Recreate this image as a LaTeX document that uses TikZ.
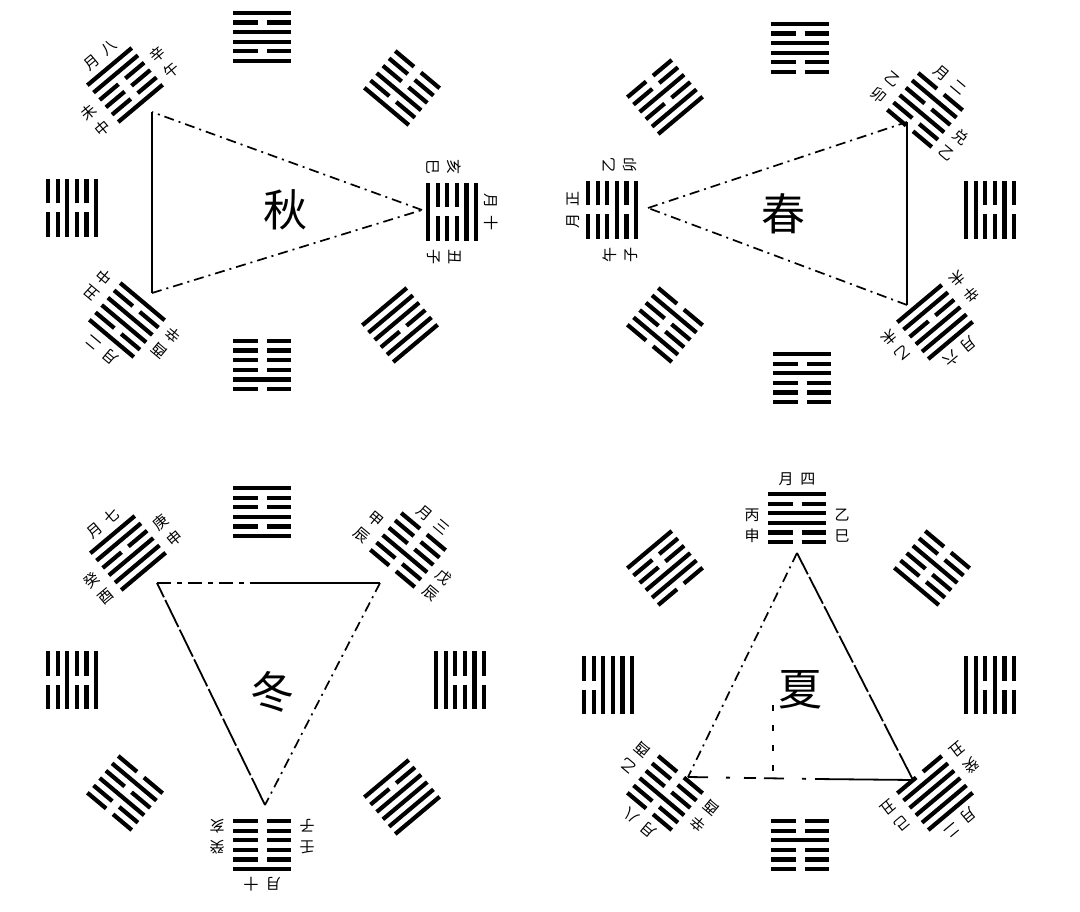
\documentclass[tikz,border=0pt]{standalone}
\usepackage{fontspec}
\newfontfamily\cjk{Noto Sans CJK SC}

% one hexagram: name, centre, angle, lines from outer to inner (1 solid, 0 broken)
\newcommand{\hexa}[4]{%
  \coordinate (#1) at (#2);
  \begin{scope}[shift={(#2)}, rotate=#3]
    \foreach \b [count=\i] in {#4} {
      \pgfmathsetmacro{\yy}{(\i-3.5)*9.6}
      \ifnum\b=1
        \draw[yao] (-29,\yy) -- (29,\yy);
      \else
        \draw[yao] (-29,\yy) -- (-4.5,\yy) (4.5,\yy) -- (29,\yy);
      \fi
    }
  \end{scope}}

% labels of a corner hexagram: name, centre, angle, outer, left pair, right pair
\newcommand{\yue}[6]{%
  \begin{scope}[shift={(#2)}, rotate=#3]
    \node[lab, rotate=#3] (#1o) at (0,-39) {#4};
    \node[lab, rotate=#3] (#1l) at (-45,8) {#5};
    \node[lab, rotate=#3] (#1r) at (45,8) {#6};
  \end{scope}}

\begin{document}
\begin{tikzpicture}[x=1pt,y=-1pt]
  \tikzset{
      yao/.style = {line width=4.2pt},
      tri/.style = {line width=1.7pt, dash pattern=on 10pt off 5pt on 2pt off 5pt},
      edgesolid/.style = {line width=1.8pt},
      lab/.style = {font=\cjk\fontsize{15}{21}\selectfont, inner sep=0pt, align=center},
      season/.style = {font=\cjk\fontsize{44}{44}\selectfont, inner sep=0pt}
  }
  \fill[white] (0,0) rectangle (1080,912);
  \useasboundingbox (0,0) rectangle (1080,912);

  % autumn
  \hexa{q1}{262,37}{0}{1,0,1,1,0,1}
  \hexa{q2}{402,88}{-40}{0,0,0,1,0,1}
  \hexa{q3}{452,212}{-90}{1,1,0,0,0,1}
  \hexa{q4}{400,325}{-140}{1,1,0,1,1,1}
  \hexa{q5}{262,365}{180}{0,1,0,0,0,0}
  \hexa{q6}{127,320}{140}{1,0,1,1,0,1}
  \hexa{q7}{72,208}{90}{0,0,1,0,0,1}
  \hexa{q8}{125,85}{40}{1,1,0,0,0,1}
  \yue{q8}{125,85}{40}{月\hspace{7pt}八}{未\\中}{辛\\午}
  \yue{q6}{127,320}{140}{月\hspace{7pt}二}{酉\\辛}{丑\\中}
  \yue{q3}{452,212}{-90}{月\hspace{7pt}十}{亥\\巳}{丑\\子}
  \coordinate (qa) at (152,112);
  \coordinate (qb) at (152,293);
  \coordinate (qc) at (422,210);
  \draw[edgesolid] (qa) -- (qb);
  \draw[tri] (qb) -- (qc);
  \draw[tri] (qc) -- (qa);
  \node[season] (qiu) at (285,210) {秋};

  % spring
  \hexa{c1}{800,48}{0}{1,0,1,1,0,0}
  \hexa{c2}{925,110}{-40}{0,1,0,1,0,0}
  \hexa{c3}{990,210}{-90}{0,1,0,0,1,1}
  \hexa{c4}{935,322}{-140}{1,1,1,0,1,1}
  \hexa{c5}{802,378}{180}{0,0,0,1,0,1}
  \hexa{c6}{665,325}{140}{0,1,0,0,1,0}
  \hexa{c7}{612,210}{90}{0,0,0,1,0,1}
  \hexa{c8}{665,97}{40}{0,0,1,0,1,1}
  \yue{c7}{612,210}{90}{月\hspace{7pt}正}{午\\子}{乙\\卯}
  \yue{c2}{925,110}{-40}{月\hspace{7pt}二}{乙\\卯}{兑\\乙}
  \yue{c4}{935,322}{-140}{月\hspace{7pt}六}{辛\\未}{乙\\未}
  \coordinate (ca) at (648,208);
  \coordinate (cb) at (907,122);
  \coordinate (cc) at (907,305);
  \draw[tri] (ca) -- (cb);
  \draw[edgesolid] (cb) -- (cc);
  \draw[tri] (cc) -- (ca);
  \node[season] (chun) at (783,214) {春};

  % winter
  \hexa{d1}{262,512}{0}{1,0,0,1,0,1}
  \hexa{d2}{408,550}{-40}{0,0,0,1,0,0}
  \hexa{d3}{460,680}{-90}{0,1,0,0,1,1}
  \hexa{d4}{402,797}{-140}{1,1,1,1,0,1}
  \hexa{d5}{262,845}{180}{1,0,0,0,0,0}
  \hexa{d6}{125,793}{140}{0,0,1,0,1,0}
  \hexa{d7}{72,680}{90}{0,0,1,0,0,1}
  \hexa{d8}{128,553}{40}{1,1,0,1,1,1}
  \yue{d8}{128,553}{40}{月\hspace{7pt}七}{癸\\酉}{庚\\申}
  \yue{d2}{408,550}{-40}{月\hspace{7pt}三}{甲\\辰}{戊\\辰}
  \yue{d5}{262,845}{180}{月\hspace{7pt}十}{壬\\子}{癸\\亥}
  \coordinate (da) at (157,583);
  \coordinate (dm) at (250,583);
  \coordinate (db) at (380,583);
  \coordinate (dc) at (265,805);
  \draw[edgesolid, dash pattern=on 14pt off 6pt on 5pt off 6pt] (da) -- (dm);
  \draw[edgesolid] (dm) -- (db);
  \draw[tri] (db) -- (dc);
  \draw[edgesolid, dash pattern=on 30pt off 3pt] (dc) -- (da);
  \node[season] (dong) at (272,692) {冬};

  % summer
  \hexa{x1}{797,518}{0}{1,0,1,1,0,0}
  \hexa{x2}{932,568}{-40}{0,0,1,0,0,1}
  \hexa{x3}{990,685}{-90}{0,0,1,0,1,1}
  \hexa{x4}{935,793}{-140}{1,1,1,1,1,0}
  \hexa{x5}{800,845}{180}{0,0,0,1,0,0}
  \hexa{x6}{665,793}{140}{0,0,1,0,0,0}
  \hexa{x7}{608,685}{90}{0,0,1,1,1,1}
  \hexa{x8}{665,568}{40}{1,0,0,1,1,0}
  \yue{x1}{797,518}{0}{月\hspace{7pt}四}{丙\\申}{乙\\巳}
  \yue{x6}{665,793}{140}{月\hspace{7pt}八}{辛\\酉}{乙\\酉}
  \yue{x4}{935,793}{-140}{月\hspace{7pt}二}{癸\\丑}{己\\丑}
  \coordinate (xa) at (797,553);
  \coordinate (xb) at (688,777);
  \coordinate (xm) at (815,779);
  \coordinate (xc) at (913,780);
  \draw[tri] (xa) -- (xb);
  \draw[edgesolid, dash pattern=on 20pt off 18pt on 4pt off 14pt on 12pt off 8pt] (xb) -- (xm);
  \draw[edgesolid] (xm) -- (xc);
  \draw[edgesolid, dash pattern=on 30pt off 3pt] (xc) -- (xa);
  \coordinate (xm1) at (773,705);
  \coordinate (xm2) at (773,775);
  \draw[line width=1.2pt, dash pattern=on 6pt off 14pt] (xm1) -- (xm2);
  \node[season] (xia) at (800,690) {夏};
\end{tikzpicture}
\end{document}
